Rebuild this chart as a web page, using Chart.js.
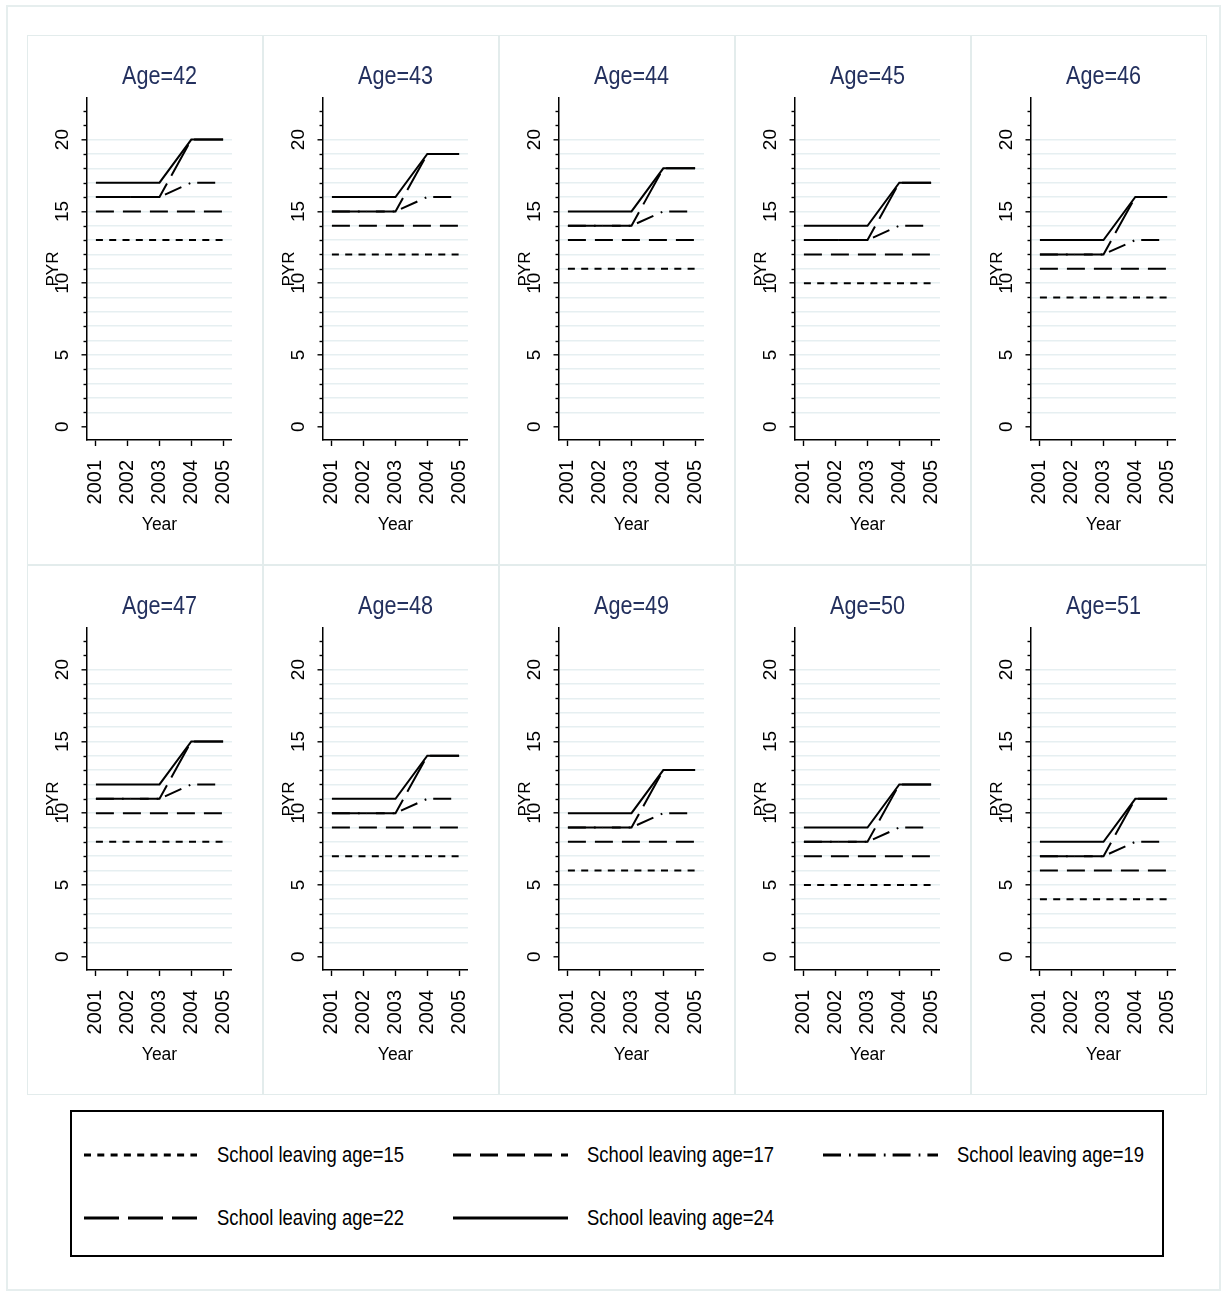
<!DOCTYPE html>
<html>
<head>
<meta charset="utf-8">
<script src="https://cdn.jsdelivr.net/npm/chart.js@4.4.1/dist/chart.umd.min.js"></script>
<style>
  html, body { margin: 0; padding: 0; background: #fff; }
  body { width: 1227px; height: 1295px; position: relative; overflow: hidden; }
  #frame { position: absolute; left: 6px; top: 5px; width: 1215px; height: 1286px; border: 2px solid #e6eeee; box-sizing: border-box; }
  .panel { position: absolute; width: 236px; height: 530px; }
  .pborder { position: absolute; width: 236px; height: 530px; border: 1px solid #e3ecec; box-sizing: border-box; pointer-events: none; }
  #legend { position: absolute; left: 70px; top: 1110px; width: 1094px; height: 147px; border: 2px solid #000; box-sizing: border-box; }
  .ltext { position: absolute; white-space: nowrap; color: #000; line-height: 30px; height: 30px; transform-origin: 0 50%; }
</style>
</head>
<body>
<div id="frame"></div>
<div id="panels"></div>
<div id="legendWrap"></div>
<script>
// ---------------- data ----------------
const years = [2001, 2002, 2003, 2004, 2005];
const ages = [42, 43, 44, 45, 46, 47, 48, 49, 50, 51];
const seriesLabels = ['School leaving age=15', 'School leaving age=17', 'School leaving age=19', 'School leaving age=22', 'School leaving age=24'];
const yMajorTicks = [0, 5, 10, 15, 20];
const yAllTicks = [0, 1, 2, 3, 4, 5, 6, 7, 8, 9, 10, 11, 12, 13, 14, 15, 16, 17, 18, 19, 20, 21, 22];
const yGridTicks = [1, 2, 3, 4, 5, 6, 7, 8, 9, 10, 11, 12, 13, 14, 15, 16, 17, 18, 19, 20];

// PYR by age (rows) and year (columns)
const pyr15 = [
  [13, 13, 13, 13, 13],
  [12, 12, 12, 12, 12],
  [11, 11, 11, 11, 11],
  [10, 10, 10, 10, 10],
  [9, 9, 9, 9, 9],
  [8, 8, 8, 8, 8],
  [7, 7, 7, 7, 7],
  [6, 6, 6, 6, 6],
  [5, 5, 5, 5, 5],
  [4, 4, 4, 4, 4]
];
const pyr17 = [
  [15, 15, 15, 15, 15],
  [14, 14, 14, 14, 14],
  [13, 13, 13, 13, 13],
  [12, 12, 12, 12, 12],
  [11, 11, 11, 11, 11],
  [10, 10, 10, 10, 10],
  [9, 9, 9, 9, 9],
  [8, 8, 8, 8, 8],
  [7, 7, 7, 7, 7],
  [6, 6, 6, 6, 6]
];
const pyr19 = [
  [16, 16, 16, 17, 17],
  [15, 15, 15, 16, 16],
  [14, 14, 14, 15, 15],
  [13, 13, 13, 14, 14],
  [12, 12, 12, 13, 13],
  [11, 11, 11, 12, 12],
  [10, 10, 10, 11, 11],
  [9, 9, 9, 10, 10],
  [8, 8, 8, 9, 9],
  [7, 7, 7, 8, 8]
];
const pyr22 = [
  [16, 16, 16, 20, 20],
  [15, 15, 15, 19, 19],
  [14, 14, 14, 18, 18],
  [13, 13, 13, 17, 17],
  [12, 12, 12, 16, 16],
  [11, 11, 11, 15, 15],
  [10, 10, 10, 14, 14],
  [9, 9, 9, 13, 13],
  [8, 8, 8, 12, 12],
  [7, 7, 7, 11, 11]
];
const pyr24 = [
  [17, 17, 17, 20, 20],
  [16, 16, 16, 19, 19],
  [15, 15, 15, 18, 18],
  [14, 14, 14, 17, 17],
  [13, 13, 13, 16, 16],
  [12, 12, 12, 15, 15],
  [11, 11, 11, 14, 14],
  [10, 10, 10, 13, 13],
  [9, 9, 9, 12, 12],
  [8, 8, 8, 11, 11]
];
const allSeries = [pyr15, pyr17, pyr19, pyr22, pyr24];

// ---------------- styles ----------------
const dashes = [[7, 6.3], [18, 9], [18, 8, 1.8, 7], [35, 9], []];
const REG = '"Liberation Sans", Arial, Helvetica, sans-serif';

function widthAt(text, family, size) {
  const c = document.createElement('canvas').getContext('2d');
  c.font = size + 'px ' + family;
  return c.measureText(text).width;
}

// panel title: Arial-metric font condensed to the narrow width via fillText maxWidth
const titleSize = 25;
const titleTargetW = 75;
const titleLH = titleSize * 1.2;
const titlePadTop = 42 - titleLH / 2;
const titlePadBottom = 63 - titlePadTop - titleLH;

const narrowTitle = {
  id: 'narrowTitle',
  afterLayout(chart) {
    const tb = chart.titleBlock;
    if (!tb) return;
    const ca = chart.chartArea;
    const cx = (ca.left + ca.right) / 2;
    const w = Math.min(titleTargetW, widthAt(tb.options.text, REG, titleSize));
    tb.left = cx - w / 2;
    tb.right = cx + w / 2;
    tb.width = w;
  }
};

const minorTicks = {
  id: 'minorTicks',
  afterDraw(chart) {
    const y = chart.scales.y;
    const ctx = chart.ctx;
    const ax = chart.chartArea.left;
    ctx.save();
    ctx.strokeStyle = '#000';
    ctx.lineWidth = 1.4;
    for (const t of y.ticks) {
      if (yMajorTicks.indexOf(t.value) === -1) {
        const py = Math.round(y.getPixelForValue(t.value)) + 0.5;
        ctx.beginPath();
        ctx.moveTo(ax - 3.5, py);
        ctx.lineTo(ax, py);
        ctx.stroke();
      }
    }
    ctx.restore();
  }
};

const panelsEl = document.getElementById('panels');
ages.forEach((age, idx) => {
  const row = Math.floor(idx / 5), col = idx % 5;
  const left = 27 + 236 * col, top = 35 + 530 * row;
  const wrap = document.createElement('div');
  wrap.className = 'panel';
  wrap.style.left = left + 'px';
  wrap.style.top = top + 'px';
  const canvas = document.createElement('canvas');
  canvas.width = 236; canvas.height = 530;
  canvas.style.width = '236px'; canvas.style.height = '530px';
  wrap.appendChild(canvas);
  panelsEl.appendChild(wrap);
  const b = document.createElement('div');
  b.className = 'pborder';
  b.style.left = left + 'px';
  b.style.top = top + 'px';
  panelsEl.appendChild(b);

  new Chart(canvas, {
    type: 'line',
    data: {
      datasets: allSeries.map((s, k) => ({
        label: seriesLabels[k],
        data: years.map((yr, j) => ({ x: yr, y: s[idx][j] })),
        borderColor: '#000',
        borderWidth: 2,
        borderDash: dashes[k],
        borderCapStyle: 'butt',
        pointRadius: 0,
        fill: false,
        tension: 0
      }))
    },
    options: {
      responsive: false,
      animation: false,
      maintainAspectRatio: false,
      layout: { padding: { left: 0, right: 15, top: 0, bottom: 0 } },
      plugins: {
        legend: { display: false },
        tooltip: { enabled: false },
        title: {
          display: true, text: 'Age=' + age, fullSize: false, align: 'center',
          color: '#23305e',
          font: { family: REG, size: titleSize, weight: 'normal', lineHeight: 1.2 },
          padding: { top: titlePadTop, bottom: titlePadBottom }
        }
      },
      scales: {
        x: {
          type: 'linear', min: 2000.72, max: 2005.28, bounds: 'data',
          afterBuildTicks: s => { s.ticks = years.map(v => ({ value: v })); },
          afterFit: s => { s.height = 125; },
          grid: { drawOnChartArea: false, drawTicks: true, tickLength: 6, tickColor: '#000', tickWidth: 1.4 },
          border: { display: true, color: '#000', width: 1.5 },
          ticks: {
            minRotation: 90, maxRotation: 90, padding: 14, autoSkip: false,
            color: '#000', font: { family: REG, size: 20 },
            callback: v => String(v)
          },
          title: { display: true, text: 'Year', color: '#000', font: { family: REG, size: 17.5, lineHeight: 1.2 }, padding: { top: 0, bottom: 40 - 17.5 * 0.6 } }
        },
        y: {
          type: 'linear', min: -0.93, max: 22.9, bounds: 'data',
          afterBuildTicks: s => { s.ticks = yAllTicks.map(v => ({ value: v })); },
          afterFit: s => { s.width = 60; },
          grid: {
            color: c => (yGridTicks.indexOf(c.tick.value) !== -1 ? '#e6eff1' : 'rgba(0,0,0,0)'),
            lineWidth: 1.6,
            drawTicks: true, tickLength: 5.5,
            tickColor: c => (yMajorTicks.indexOf(c.tick.value) !== -1 ? '#000' : 'rgba(0,0,0,0)'),
            tickWidth: 1.4
          },
          border: { display: true, color: '#000', width: 1.5 },
          ticks: {
            minRotation: 90, maxRotation: 90, crossAlign: 'center', padding: 8, autoSkip: false,
            color: '#000', font: { family: REG, size: 19 },
            callback: v => (yMajorTicks.indexOf(v) !== -1 ? String(v) : '')
          },
          title: { display: true, text: 'PYR', color: '#000', font: { family: REG, size: 17, lineHeight: 1.2 }, padding: { top: 16, bottom: 0 } }
        }
      }
    },
    plugins: [narrowTitle, minorTicks]
  });
});

// ---------------- legend ----------------
const legendItems = [
  { k: 0, x1: 84, x2: 197, tx: 217, cy: 1155 },
  { k: 1, x1: 453, x2: 568, tx: 587, cy: 1155 },
  { k: 2, x1: 823, x2: 938, tx: 957, cy: 1155 },
  { k: 3, x1: 84, x2: 197, tx: 217, cy: 1218 },
  { k: 4, x1: 453, x2: 568, tx: 587, cy: 1218 }
];
const lw = document.getElementById('legendWrap');
const box = document.createElement('div');
box.id = 'legend';
lw.appendChild(box);
const svgNS = 'http://www.w3.org/2000/svg';
const svg = document.createElementNS(svgNS, 'svg');
svg.setAttribute('width', '1227'); svg.setAttribute('height', '1295');
svg.style.position = 'absolute'; svg.style.left = '0'; svg.style.top = '0';
const legendSize = 22.5;
const legendScale = 187 / widthAt(seriesLabels[0], REG, legendSize);
legendItems.forEach(it => {
  const ln = document.createElementNS(svgNS, 'line');
  ln.setAttribute('x1', it.x1); ln.setAttribute('x2', it.x2);
  ln.setAttribute('y1', it.cy); ln.setAttribute('y2', it.cy);
  ln.setAttribute('stroke', '#000'); ln.setAttribute('stroke-width', '3');
  if (dashes[it.k].length) ln.setAttribute('stroke-dasharray', dashes[it.k].join(' '));
  svg.appendChild(ln);
  const t = document.createElement('div');
  t.className = 'ltext';
  t.textContent = seriesLabels[it.k];
  t.style.left = it.tx + 'px';
  t.style.top = (it.cy - 15) + 'px';
  t.style.fontFamily = REG;
  t.style.fontSize = legendSize + 'px';
  t.style.transform = 'scaleX(' + legendScale.toFixed(4) + ')';
  lw.appendChild(t);
});
lw.appendChild(svg);
</script>
</body>
</html>
